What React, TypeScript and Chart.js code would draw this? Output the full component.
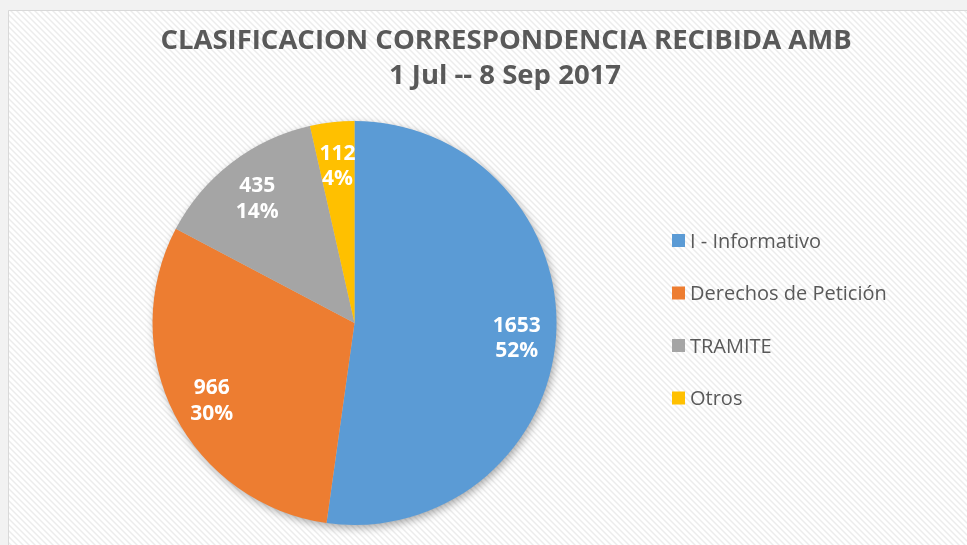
import React, { useEffect, useRef } from "react";
import { Chart, registerables } from "chart.js";

Chart.register(...registerables);

const categories = ["I - Informativo", "Derechos de Petición", "TRAMITE", "Otros"];
const values = [1653, 966, 435, 112];
const colors = ["#5B9BD5", "#ED7D31", "#A5A5A5", "#FFC000"];
const titleLines = ["CLASIFICACION CORRESPONDENCIA RECIBIDA AMB", "1 Jul -- 8 Sep 2017"];

const FONT = "'Open Sans', 'Noto Sans', sans-serif";

// Largest-remainder rounding so the percentages sum to 100 (as Excel does)
function percentages(data: number[]) {
  const total = data.reduce((a, b) => a + b, 0);
  const raw = data.map((v) => (v / total) * 100);
  const fl = raw.map((r) => Math.floor(r));
  let left = 100 - fl.reduce((a, b) => a + b, 0);
  const order = raw.map((r, i) => ({ i, rem: r - Math.floor(r) })).sort((a, b) => b.rem - a.rem);
  for (let k = 0; k < order.length && left > 0; k++, left--) fl[order[k].i] += 1;
  return fl;
}

function makePattern(ctx: CanvasRenderingContext2D) {
  const p = document.createElement("canvas");
  const n = 6;
  p.width = n;
  p.height = n;
  const pc = p.getContext("2d")!;
  const img = pc.createImageData(n, n);
  for (let y = 0; y < n; y++) {
    for (let x = 0; x < n; x++) {
      const k = (((x - y) % n) + n) % n;
      let v = 255;
      if (k === 0) v = 236;
      else if (k === 1 || k === 5) v = 245;
      const i = (y * n + x) * 4;
      img.data[i] = v;
      img.data[i + 1] = v;
      img.data[i + 2] = v;
      img.data[i + 3] = 255;
    }
  }
  pc.putImageData(img, 0, 0);
  return ctx.createPattern(p, "repeat");
}

const backgroundPlugin = {
  id: "bgPlugin",
  beforeDraw(chart: any) {
    const ctx = chart.ctx as CanvasRenderingContext2D;
    const W = chart.width;
    const H = chart.height;
    ctx.save();
    ctx.fillStyle = "#F2F2F2";
    ctx.fillRect(0, 0, W, H);
    const pat = makePattern(ctx);
    ctx.fillStyle = pat || "#fff";
    ctx.fillRect(9, 11, W - 9, H - 11);
    ctx.strokeStyle = "#D9D9D9";
    ctx.lineWidth = 1;
    ctx.beginPath();
    ctx.moveTo(8.5, H);
    ctx.lineTo(8.5, 10.5);
    ctx.lineTo(W, 10.5);
    ctx.stroke();

    // title
    ctx.fillStyle = "#595959";
    ctx.textAlign = "center";
    ctx.textBaseline = "alphabetic";
    ctx.font = `bold 27.5px ${FONT}`;
    ctx.fillText(titleLines[0], 506, 48.5);
    ctx.fillText(titleLines[1], 505, 84);

    // legend
    const labels = chart.data.labels as string[];
    const bg = chart.data.datasets[0].backgroundColor as string[];
    ctx.textAlign = "left";
    ctx.font = `20px ${FONT}`;
    labels.forEach((lab, i) => {
      const cy = 240.5 + i * 52.5;
      ctx.fillStyle = bg[i];
      ctx.fillRect(672, cy - 6.5, 13, 13);
      ctx.fillStyle = "#595959";
      ctx.fillText(lab, 690, cy + 7);
    });
    ctx.restore();
  },
  beforeDatasetsDraw(chart: any) {
    const meta = chart.getDatasetMeta(0);
    const arc = meta.data[0];
    if (!arc) return;
    const ctx = chart.ctx as CanvasRenderingContext2D;
    ctx.save();
    ctx.shadowColor = "rgba(0,0,0,0.35)";
    ctx.shadowBlur = 9;
    ctx.shadowOffsetX = 2;
    ctx.shadowOffsetY = 3;
    ctx.fillStyle = "#cccccc";
    ctx.beginPath();
    ctx.arc(arc.x, arc.y, arc.outerRadius - 0.5, 0, Math.PI * 2);
    ctx.fill();
    ctx.restore();
  },
  afterDatasetsDraw(chart: any) {
    const meta = chart.getDatasetMeta(0);
    const data = chart.data.datasets[0].data as number[];
    const pcts = percentages(data);
    const ctx = chart.ctx as CanvasRenderingContext2D;
    ctx.save();
    ctx.fillStyle = "#FFFFFF";
    ctx.textAlign = "center";
    ctx.textBaseline = "alphabetic";
    ctx.font = `bold 21px ${FONT}`;
    meta.data.forEach((a: any, i: number) => {
      const mid = (a.startAngle + a.endAngle) / 2;
      const r = a.outerRadius * 0.8;
      const x = a.x + Math.cos(mid) * r + 1;
      const y = a.y + Math.sin(mid) * r + 2;
      ctx.fillText(String(data[i]), x, y - 4.5);
      ctx.fillText(pcts[i] + "%", x, y + 21);
    });
    ctx.restore();
  },
};

export default function App() {
  const ref = useRef<HTMLCanvasElement>(null);
  useEffect(() => {
    const chart = new Chart(ref.current!, {
      type: "pie",
      data: {
        labels: categories,
        datasets: [
          {
            data: values,
            backgroundColor: colors,
            borderWidth: 0,
          },
        ],
      },
      options: {
        responsive: false,
        animation: false,
        devicePixelRatio: 1,
        layout: { padding: { left: 152.5, right: 410.5, top: 121, bottom: 20 } },
        plugins: {
          legend: { display: false },
          title: { display: false },
          tooltip: { enabled: false },
        },
      },
      plugins: [backgroundPlugin],
    });
    return () => chart.destroy();
  }, []);
  return (
    <div style={{ position: "fixed", left: 0, top: 0, width: 967, height: 545 }}>
      <canvas ref={ref} width={967} height={545} style={{ width: 967, height: 545, display: "block" }} />
    </div>
  );
}
